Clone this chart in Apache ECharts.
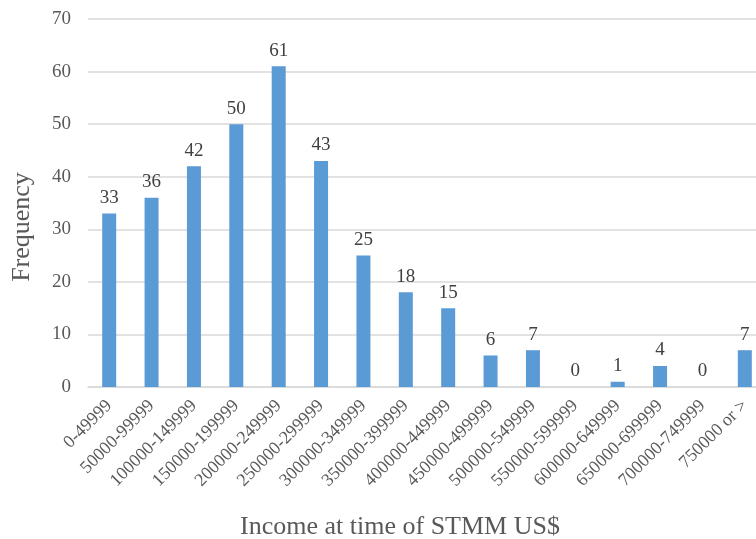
<!DOCTYPE html>
<html>
<head>
<meta charset="utf-8">
<script src="https://cdn.jsdelivr.net/npm/echarts@6/dist/echarts.min.js"></script>
<style>html,body{margin:0;padding:0;background:#fff}#c{width:756px;height:539px}</style>
</head>
<body>
<div id="c"></div>
<script>
const categories = ["0-49999","50000-99999","100000-149999","150000-199999","200000-249999","250000-299999","300000-349999","350000-399999","400000-449999","450000-499999","500000-549999","550000-599999","600000-649999","650000-699999","700000-749999","750000 or >"];
const frequency = [33,36,42,50,61,43,25,18,15,6,7,0,1,4,0,7];
const yTicks = {min:0, max:70, interval:10};
const xTitle = "Income at time of STMM US$";
const yTitle = "Frequency";

const font = '"Liberation Serif","Times New Roman",serif';
const chart = echarts.init(document.getElementById('c'));
chart.setOption({
  animation:false,
  grid:{left:88, top:19, width:678, height:368, containLabel:false, outerBoundsMode:'none'},
  xAxis:{
    type:'category', data:categories,
    axisLine:{lineStyle:{color:'#d9d9d9', width:1.5}},
    axisTick:{show:false},
    axisLabel:{rotate:45, interval:0, margin:16, color:'#595959', fontFamily:font, fontSize:18},
    name:xTitle, nameLocation:'middle', nameGap:127,
    nameTextStyle:{color:'#595959', fontFamily:font, fontSize:26, padding:[0,54,0,0]}
  },
  yAxis:{
    type:'value', min:yTicks.min, max:yTicks.max, interval:yTicks.interval,
    axisLine:{show:false}, axisTick:{show:false},
    splitLine:{lineStyle:{color:'#d9d9d9', width:1.5}},
    axisLabel:{margin:17, color:'#595959', fontFamily:font, fontSize:19},
    name:yTitle, nameLocation:'middle', nameGap:53,
    nameTextStyle:{color:'#595959', fontFamily:font, fontSize:26, padding:[0,48,0,0]}
  },
  series:[{
    type:'bar', data:frequency, barWidth:14,
    itemStyle:{color:'#5b9bd5'},
    label:{show:true, position:'top', distance:6, color:'#404040', fontFamily:font, fontSize:19}
  }]
});
</script>
</body>
</html>
